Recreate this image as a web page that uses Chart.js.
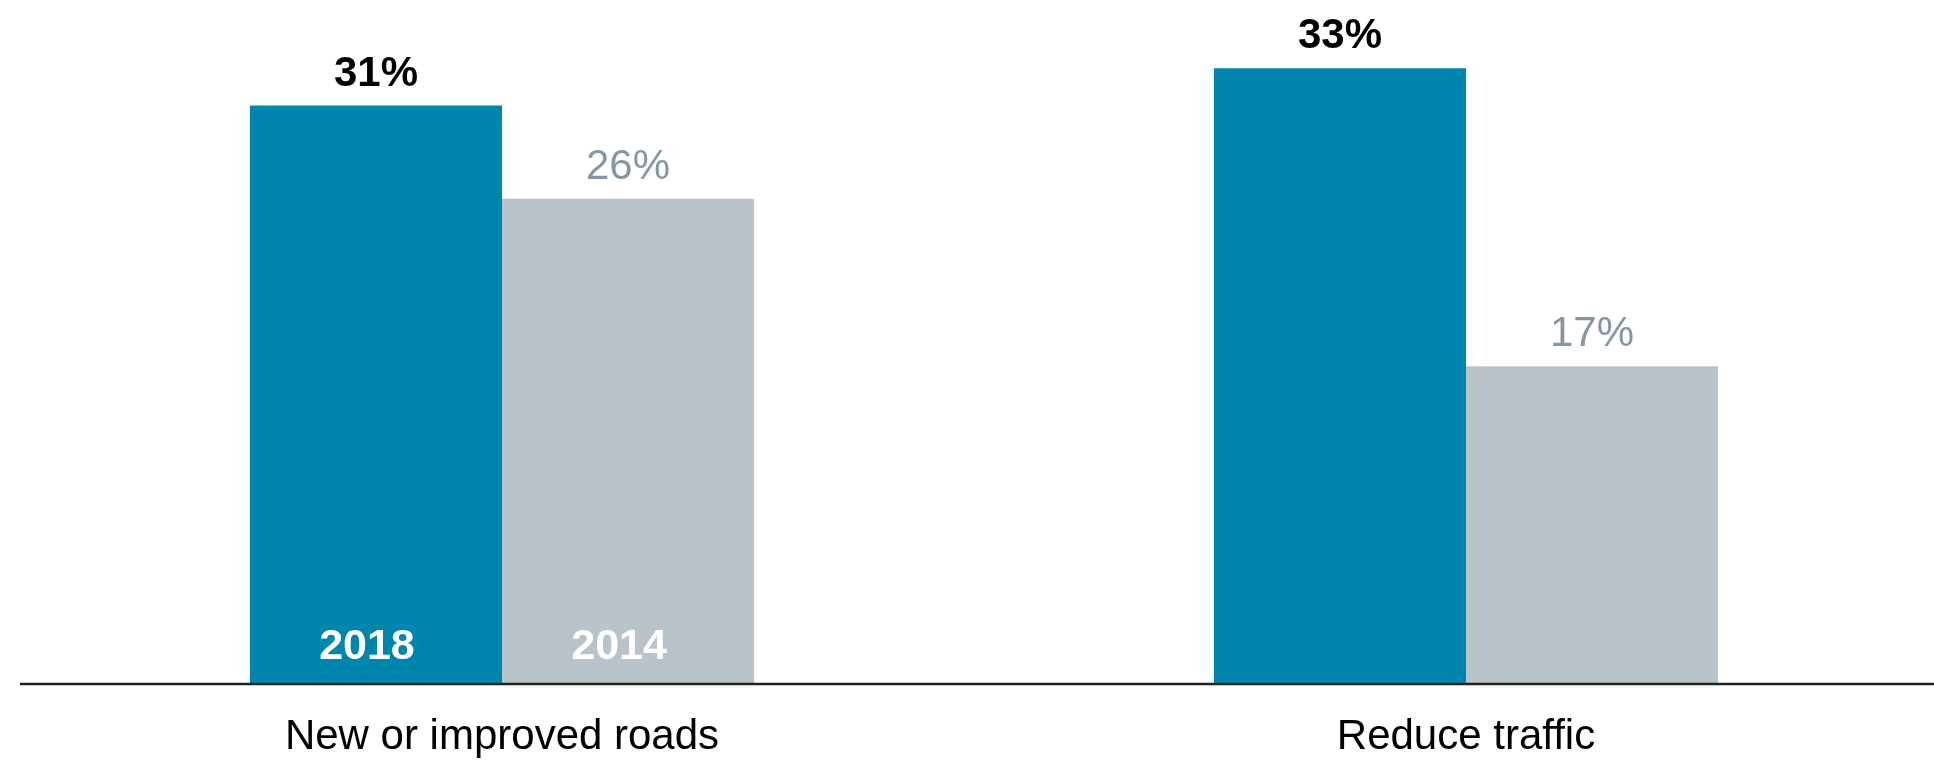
<!DOCTYPE html>
<html>
<head>
<meta charset="utf-8">
<script src="https://cdn.jsdelivr.net/npm/chart.js@4"></script>
<style>
  html, body { margin: 0; padding: 0; background: #fff; overflow: hidden; }
  /* plot runs a little past the right edge of the window, as in the original */
  #wrap { width: 1948px; height: 764px; position: relative; }
</style>
</head>
<body>
<div id="wrap"><canvas id="chart"></canvas></div>
<script>
// --- DATA ---
const categories = ['New or improved roads', 'Reduce traffic'];
const years = ['2018', '2014'];
const values2018 = [31, 33];
const values2014 = [26, 17];

const TEAL = '#0085ad';
const GREY = '#b9c4ca';
const GREY_TEXT = '#8497a4';
const FONT = '"Liberation Sans", Arial, sans-serif';

// value labels above bars + year labels inside the first group
const barLabels = {
    id: 'barLabels',
    afterDatasetsDraw(chart) {
        const ctx = chart.ctx;
        const base = chart.scales.y.getPixelForValue(0);
        ctx.save();
        ctx.textAlign = 'center';
        ctx.textBaseline = 'alphabetic';
        chart.data.datasets.forEach((ds, di) => {
            const meta = chart.getDatasetMeta(di);
            meta.data.forEach((bar, i) => {
                if (di === 0) {
                    ctx.font = 'bold 42px ' + FONT;
                    ctx.fillStyle = '#000';
                } else {
                    ctx.font = '42px ' + FONT;
                    ctx.fillStyle = GREY_TEXT;
                }
                ctx.fillText(ds.data[i] + '%', bar.x, bar.y - 20);
                if (i === 0) {
                    ctx.font = 'bold 43px ' + FONT;
                    ctx.fillStyle = '#fff';
                    ctx.fillText(ds.label, bar.x - 9, base - 24);
                }
            });
        });
        ctx.restore();
    }
};

// baseline from the left of the plot to the canvas edge
const baseLine = {
    id: 'baseLine',
    afterDatasetsDraw(chart) {
        const ctx = chart.ctx;
        const y = chart.scales.y.getPixelForValue(0) + 1;
        ctx.save();
        ctx.strokeStyle = '#222';
        ctx.lineWidth = 2.5;
        ctx.beginPath();
        ctx.moveTo(chart.chartArea.left, y);
        ctx.lineTo(chart.width, y);
        ctx.stroke();
        ctx.restore();
    }
};

new Chart(document.getElementById('chart'), {
    type: 'bar',
    data: {
        labels: categories,
        datasets: [
            { label: years[0], data: values2018, backgroundColor: TEAL },
            { label: years[1], data: values2014, backgroundColor: GREY }
        ]
    },
    options: {
        responsive: true,
        maintainAspectRatio: false,
        animation: false,
        layout: { padding: { top: 31, left: 20, right: 0, bottom: 6 } },
        datasets: { bar: { categoryPercentage: 0.523, barPercentage: 1 } },
        plugins: { legend: { display: false }, tooltip: { enabled: false } },
        scales: {
            x: {
                grid: { display: false, drawTicks: false },
                border: { display: false },
                ticks: { color: '#000', padding: 29, font: { family: FONT, size: 42 } },
                afterFit: (scale) => { scale.height = 75; }
            },
            y: {
                display: false,
                min: 0,
                max: 35
            }
        }
    },
    plugins: [barLabels, baseLine]
});
</script>
</body>
</html>
